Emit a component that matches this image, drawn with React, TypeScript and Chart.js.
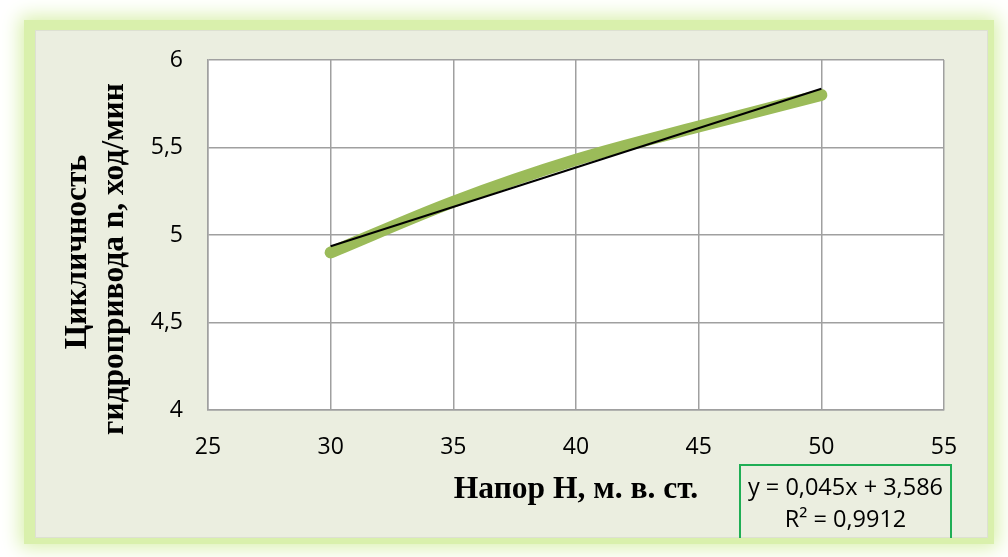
import React, { useEffect, useRef } from "react";
import { Chart, registerables } from "chart.js";

Chart.register(...registerables);

// Measured head (m of water column) and drive cycle rate (strokes/min)
const headValues = [30, 35, 40, 45, 50];
const cycleRate = [4.9, 5.19, 5.43, 5.62, 5.8];

// Linear trend fitted to the measurements
const trendSlope = 0.045;
const trendIntercept = 3.586;
const trendR2 = 0.9912;

// Axis ranges and steps
const xRange = [25, 55];
const xStep = 5;
const yRange = [4, 6];
const yStep = 0.5;

const xTitle = "Напор Н, м. в. ст.";
const yTitleLines = ["Цикличность", "гидропривода n, ход/мин"];

const fmt = (v: number) => String(v).replace(".", ",");

const trendLabel = [
  `y = ${fmt(trendSlope)}x + ${fmt(trendIntercept)}`,
  `R² = ${fmt(trendR2)}`,
];

const GRID = "#a0a0a0";
const SANS = "'Open Sans', 'Noto Sans', sans-serif";
const SERIF = "'Liberation Serif', 'Times New Roman', serif";
const TICK_FONT = { family: SANS, size: 23 };

const decorPlugin = {
  id: "decor",
  beforeDraw(chart: any) {
    const { ctx, chartArea: a } = chart;
    ctx.save();
    ctx.fillStyle = "#ffffff";
    ctx.fillRect(a.left, a.top, a.right - a.left, a.bottom - a.top);
    ctx.restore();
  },
  afterDraw(chart: any) {
    const { ctx } = chart;
    ctx.save();
    // rotated two-line value axis title
    ctx.font = `bold 31.5px ${SERIF}`;
    ctx.fillStyle = "#000";
    ctx.textAlign = "center";
    ctx.textBaseline = "middle";
    const lines = [
      { text: yTitleLines[0], x: 78, y: 252 },
      { text: yTitleLines[1], x: 115, y: 259 },
    ];
    for (const l of lines) {
      ctx.save();
      ctx.translate(l.x, l.y);
      ctx.rotate(-Math.PI / 2);
      ctx.fillText(l.text, 0, 0);
      ctx.restore();
    }
    // trendline equation box
    ctx.strokeStyle = "#1fae55";
    ctx.lineWidth = 2;
    ctx.beginPath();
    ctx.moveTo(740, 538);
    ctx.lineTo(740, 465);
    ctx.lineTo(951, 465);
    ctx.lineTo(951, 538);
    ctx.stroke();
    ctx.font = `23.5px ${SANS}`;
    ctx.fillStyle = "#000";
    ctx.fillText(trendLabel[0], 845.5, 488);
    ctx.fillText(trendLabel[1], 845.5, 520);
    ctx.restore();
  },
};

export default function App() {
  const canvasRef = useRef<HTMLCanvasElement | null>(null);

  useEffect(() => {
    if (!canvasRef.current) return;
    const trendX = [headValues[0], headValues[headValues.length - 1]];
    const chart = new Chart(canvasRef.current, {
      type: "line",
      data: {
        datasets: [
          {
            label: "trend",
            data: trendX.map((x) => ({ x, y: trendSlope * x + trendIntercept })),
            borderColor: "#000000",
            borderWidth: 2,
            pointRadius: 0,
            tension: 0,
          },
          {
            label: "n",
            data: headValues.map((x, i) => ({ x, y: cycleRate[i] })),
            borderColor: "#9bbb59",
            borderWidth: 12,
            borderCapStyle: "round",
            borderJoinStyle: "round",
            pointRadius: 0,
            cubicInterpolationMode: "monotone",
          },
        ],
      },
      options: {
        animation: false,
        responsive: false,
        maintainAspectRatio: false,
        layout: { padding: { left: 0, right: 64, top: 60, bottom: 0 } },
        plugins: {
          legend: { display: false },
          tooltip: { enabled: false },
        },
        scales: {
          x: {
            type: "linear",
            min: xRange[0],
            max: xRange[1],
            ticks: {
              stepSize: xStep,
              color: "#000",
              font: TICK_FONT,
              padding: 24,
              callback: (v: any) => fmt(v),
            },
            grid: { color: GRID, lineWidth: 1.5, drawTicks: false },
            border: { color: GRID, width: 1.5 },
            title: {
              display: true,
              text: xTitle,
              color: "#000",
              font: { family: SERIF, size: 31.5, weight: "bold" },
              padding: { top: 0, bottom: 48 },
            },
            afterFit: (s: any) => {
              s.height = 147;
            },
          },
          y: {
            type: "linear",
            min: yRange[0],
            max: yRange[1],
            ticks: {
              stepSize: yStep,
              color: "#000",
              font: TICK_FONT,
              padding: 25,
              callback: (v: any) => fmt(v),
            },
            grid: { color: GRID, lineWidth: 1.5, drawTicks: false },
            border: { color: GRID, width: 1.5 },
            afterFit: (s: any) => {
              s.width = 208;
            },
          },
        },
      },
      plugins: [decorPlugin],
    } as any);
    return () => chart.destroy();
  }, []);

  return (
    <div
      style={{
        position: "fixed",
        left: 0,
        top: 0,
        width: 1008,
        height: 557,
        background: "#ffffff",
        overflow: "hidden",
      }}
    >
      <div
        style={{
          position: "absolute",
          left: 24,
          top: 20,
          width: 970,
          height: 524,
          background: "#d9f0ac",
          boxShadow: "0 0 18px 4px #d9f0ac",
        }}
      />
      <div
        style={{
          position: "absolute",
          left: 35,
          top: 30,
          width: 951,
          height: 506,
          background: "#ebeee0",
          border: "1px solid #dde0d2",
        }}
      />
      <canvas
        ref={canvasRef}
        width={1008}
        height={557}
        style={{ position: "absolute", left: 0, top: 0, width: 1008, height: 557 }}
      />
    </div>
  );
}
